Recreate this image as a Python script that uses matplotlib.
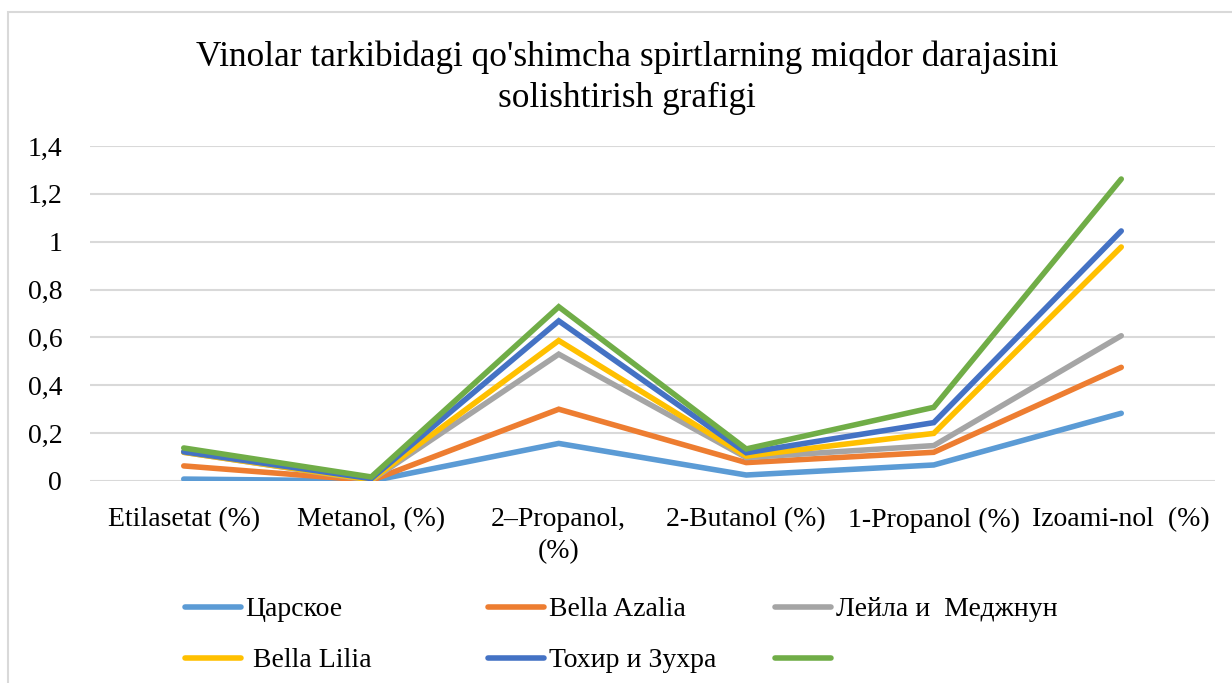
import matplotlib
matplotlib.use("Agg")
import matplotlib.pyplot as plt
from matplotlib.lines import Line2D
from matplotlib.patches import Rectangle
from matplotlib.ticker import FuncFormatter, MultipleLocator

plt.rcParams['font.family'] = ['Liberation Serif', 'DejaVu Serif']

title = "Vinolar tarkibidagi qo'shimcha spirtlarning miqdor darajasini\nsolishtirish grafigi"

categories = ["Etilasetat (%)", "Metanol, (%)", "2\u2013Propanol,\n(%)",
              "2-Butanol (%)", "1-Propanol (%)", "Izoami-nol  (%)"]

series_names = ["Царское", "Bella Azalia", "Лейла и  Меджнун",
                " Bella Lilia", "Тохир и Зухра", ""]

tsarskoe = [0.008, 0.000, 0.157, 0.025, 0.067, 0.283]
bella_azalia = [0.063, 0.002, 0.300, 0.077, 0.120, 0.475]
leyla_majnun = [0.120, 0.003, 0.530, 0.098, 0.148, 0.607]
bella_lilia = [0.120, 0.005, 0.587, 0.104, 0.199, 0.978]
tohir_zuhra = [0.122, 0.010, 0.669, 0.118, 0.244, 1.045]
sixth = [0.138, 0.017, 0.728, 0.134, 0.308, 1.262]

series = [tsarskoe, bella_azalia, leyla_majnun, bella_lilia, tohir_zuhra, sixth]
colors = ["#5B9BD5", "#ED7D31", "#A5A5A5", "#FFC000", "#4472C4", "#70AD47"]

W, H = 1232, 683
fig = plt.figure(figsize=(W / 100, H / 100), dpi=100)
ax = fig.add_axes([90 / W, 1 - 481 / H, 1125 / W, 335 / H])

x = list(range(len(categories)))
handles = []
for i, (vals, col) in enumerate(zip(series, colors)):
    ax.plot(x, vals, color=col, lw=4.0, solid_capstyle='round',
            solid_joinstyle='miter', zorder=3 + i)
    handles.append(Line2D([0], [0], color=col, lw=4.0, solid_capstyle='round'))

ax.set_xlim(-0.5, len(categories) - 0.5)
ax.set_ylim(0, 1.4)
ax.yaxis.set_major_locator(MultipleLocator(0.2))
ax.yaxis.set_major_formatter(FuncFormatter(
    lambda v, p: ("%g" % round(v, 1)).replace('.', ',')))
ax.set_xticks(x)
ax.set_xticklabels(categories, fontsize=20, linespacing=1.33)
ax.tick_params(axis='both', length=0, labelsize=20)
ax.tick_params(axis='x', pad=19)
ax.tick_params(axis='y', pad=20)
ax.grid(axis='y', color='#D9D9D9', lw=1.5, zorder=0)
ax.set_axisbelow(True)
for s in ax.spines.values():
    s.set_visible(False)

fig.text(627 / W, 1 - 78 / H, title, ha='center', va='center', fontsize=25.4,
         linespacing=1.3)

# legend: two rows, three equally spaced columns
col_x = [185, 488, 775]
for c in range(3):
    idx = [c, c + 3]
    fig.legend([handles[k] for k in idx], [series_names[k] for k in idx],
               loc='upper left', bbox_to_anchor=(col_x[c] / W, 1 - 597 / H),
               ncol=1, frameon=False, fontsize=20, handlelength=2.0,
               handletextpad=0.18, labelspacing=0.92, borderpad=0,
               borderaxespad=0)

fig.patches.append(Rectangle((8 / W, -0.01), 1.2, 1 - 12 / H + 0.01,
                             transform=fig.transFigure, fill=False,
                             edgecolor='#D9D9D9', lw=1.5))

fig.savefig("out.png", dpi=100)
